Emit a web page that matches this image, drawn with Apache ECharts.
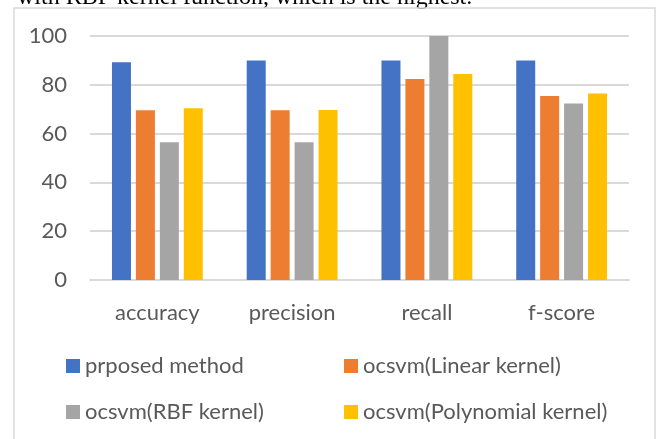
<!DOCTYPE html>
<html>
<head>
<meta charset="utf-8">
<script src="https://cdn.jsdelivr.net/npm/echarts@6/dist/echarts.min.js"></script>
<style>
  html, body { margin: 0; padding: 0; background: #fff; }
  #myChart { width: 658px; height: 439px; }
</style>
</head>
<body>
<div id="myChart"></div>
<script>
// chart values
const categories = ['accuracy', 'precision', 'recall', 'f-score']
const seriesNames = ['prposed method', 'ocsvm(Linear kernel)', 'ocsvm(RBF kernel)', 'ocsvm(Polynomial kernel)']
const proposed = [89.2, 90.0, 90.0, 90.0]
const linearKernel = [69.6, 69.6, 82.4, 75.4]
const rbfKernel = [56.5, 56.5, 100, 72.3]
const polyKernel = [70.4, 69.7, 84.4, 76.4]
const yTicks = [0, 20, 40, 60, 80, 100]
const colors = ['#4472C4', '#ED7D31', '#A5A5A5', '#FFC000']

const font = 'Lato'
const textColor = '#595959'

// legend positions: two rows x two columns, like the Word chart
const legendPos = [[66, 355], [344, 355], [66, 401], [344, 401]]

let options = {
  animation: false,
  color: colors,
  textStyle: { fontFamily: font },
  graphic: [
    {
      type: 'text',
      left: 17,
      top: -14,
      style: {
        text: 'with RBF kernel function, which is the highest.',
        fontFamily: 'Liberation Serif',
        fontSize: 24,
        fill: '#000'
      }
    },
    {
      type: 'rect',
      shape: { x: 14, y: 8, width: 641, height: 440 },
      style: { fill: 'none', stroke: '#d9d9d9', lineWidth: 1.5 }
    }
  ],
  legend: seriesNames.map((name, i) => ({
    data: [name],
    left: legendPos[i][0],
    top: legendPos[i][1],
    padding: 0,
    itemWidth: 14,
    itemHeight: 14,
    icon: 'rect',
    textStyle: { fontFamily: font, fontSize: 22, color: textColor }
  })),
  grid: {
    left: 90,
    right: 29,
    top: 36,
    bottom: 159
  },
  xAxis: {
    type: 'category',
    data: categories,
    axisLine: { lineStyle: { color: '#d9d9d9', width: 2 } },
    axisTick: { show: false },
    axisLabel: { margin: 22, fontSize: 22, color: textColor, fontFamily: font }
  },
  yAxis: {
    type: 'value',
    min: 0,
    max: 100,
    interval: 20,
    axisLabel: {
      margin: 23,
      fontSize: 22,
      color: textColor,
      fontFamily: font,
      formatter: v => (yTicks.includes(v) ? String(v) : '')
    },
    splitLine: { lineStyle: { color: '#d9d9d9', width: 2 } }
  },
  series: [proposed, linearKernel, rbfKernel, polyKernel].map((data, i) => ({
    name: seriesNames[i],
    type: 'bar',
    data: data,
    barWidth: 19,
    barGap: '26%'
  }))
}

let myChart = echarts.init(document.getElementById('myChart'))
myChart.setOption(options)
</script>
</body>
</html>
